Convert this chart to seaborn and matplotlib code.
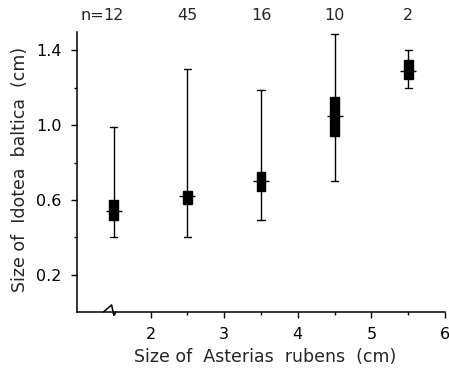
import numpy as np
import pandas as pd
import matplotlib
matplotlib.use("Agg")
import matplotlib.pyplot as plt
import matplotlib.transforms as mtransforms
import seaborn as sns

# size classes of Asterias (cm) and sample sizes
star_size = [1.5, 2.5, 3.5, 4.5, 5.5]
n_labels = ["12", "45", "16", "10", "2"]

# five-number summaries of Idotea size (cm)
lo = [0.40, 0.40, 0.49, 0.70, 1.20]
q1 = [0.49, 0.58, 0.65, 0.94, 1.25]
med = [0.54, 0.62, 0.70, 1.05, 1.29]
q3 = [0.60, 0.65, 0.75, 1.15, 1.35]
hi = [0.99, 1.30, 1.19, 1.49, 1.40]

# long table: with 5 points per group, whis=(0,100) gives exactly these stats
rows = []
for i, x in enumerate(star_size):
    for v in (lo[i], q1[i], med[i], q3[i], hi[i]):
        rows.append({"asterias": x, "idotea": v})
df = pd.DataFrame(rows)

sns.set_theme(style="ticks")
plt.rcParams["font.family"] = ["DejaVu Sans"]
fs = 11.5

fig = plt.figure(figsize=(4.49, 3.70), dpi=100)
ax = fig.add_axes([0.1715, 0.157, 0.8196, 0.757])

sns.boxplot(data=df, x="asterias", y="idotea", native_scale=True,
            whis=(0, 100), width=0.12, color="black", linecolor="black",
            linewidth=1.0, showfliers=False, capwidths=0.1, ax=ax)

# median tick sticking out of the black box
sns.scatterplot(x=star_size, y=med, marker="_", s=130, color="black",
                linewidth=1.0, ax=ax, zorder=5, legend=False)

ax.set_xlim(1, 6)
ax.set_ylim(0, 1.5)
ax.set_xticks([2, 3, 4, 5, 6])
ax.set_xticklabels(["2", "3", "4", "5", "6"])
ax.set_xticks(star_size, minor=True)
ax.set_yticks([0.2, 0.6, 1.0, 1.4])
ax.set_yticklabels(["0.2", "0.6", "1.0", "1.4"])
ax.set_yticks([0.4, 0.8, 1.2], minor=True)
ax.tick_params(which="major", length=4, width=1, pad=7, labelsize=fs, colors="black")
ax.tick_params(which="minor", length=2.5, width=1, colors="black")
sns.despine(ax=ax)
for s in ("left", "bottom"):
    ax.spines[s].set_linewidth(1.1)
    ax.spines[s].set_color("black")

ax.set_xlabel("Size of  Asterias  rubens  (cm)", fontsize=12.5)
ax.set_ylabel("Size of  Idotea  baltica  (cm)", fontsize=12.5)
ax.xaxis.set_label_coords(0.51, -0.13)
ax.yaxis.set_label_coords(-0.13, 0.507)

# sample sizes above the plot
trans = mtransforms.blended_transform_factory(ax.transData, ax.transAxes)
for x, lab in zip(star_size, n_labels):
    ax.text(x, 1.057, lab, transform=trans, ha="center", va="center", fontsize=fs)
ax.annotate("n=", xy=(star_size[0], 1.057), xycoords=trans, xytext=(-7, 0),
            textcoords="offset points", ha="right", va="center", fontsize=fs)

# axis break mark on the x axis
ax.plot([1.36, 1.47, 1.5, 1.53], [0.0, 0.025, -0.012, 0.0], transform=trans,
        color="black", lw=1.1, clip_on=False)

fig.savefig("out.png", dpi=100)
